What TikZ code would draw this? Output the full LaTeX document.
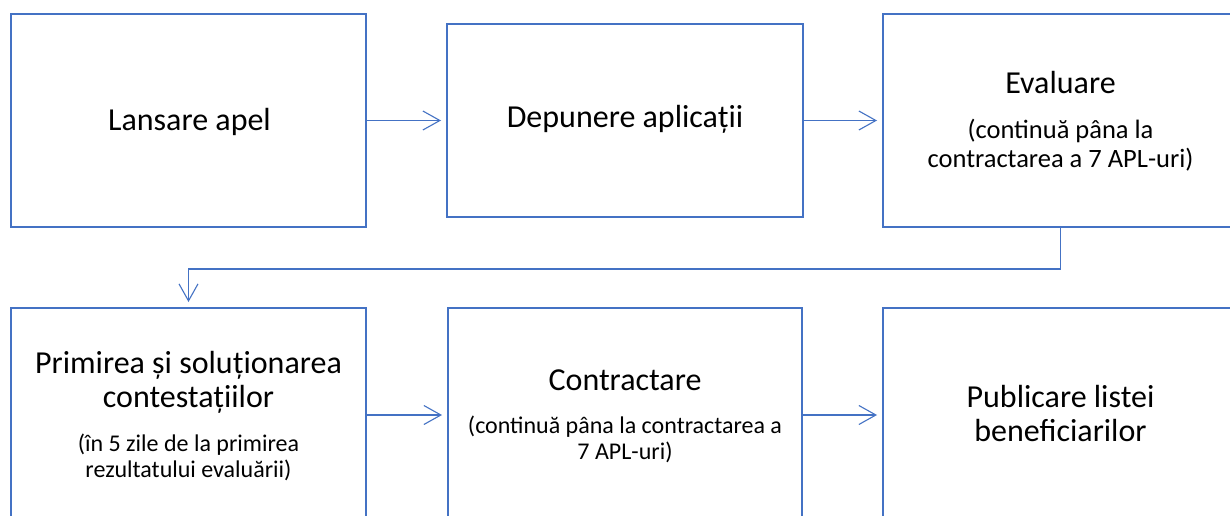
\documentclass[tikz,border=0pt]{standalone}
\usepackage{fontspec}
\setmainfont{Carlito}
\usetikzlibrary{arrows.meta}
\definecolor{officeblue}{HTML}{4472C4}
\tikzset{
  box/.style={draw=officeblue, line width=2pt, fill=white, inner sep=0pt},
  flow/.style={draw=officeblue, line width=1.1pt,
    -{Straight Barb[length=17pt,width=19pt,line width=1.1pt]}, shorten >=5pt},
  title/.style={anchor=base, inner sep=0pt, font=\fontsize{32}{34}\selectfont},
  sub/.style={anchor=base, inner sep=0pt, font=\fontsize{24}{26}\selectfont},
  subb/.style={anchor=base, inner sep=0pt, font=\fontsize{26.5}{29}\selectfont}
}
\begin{document}
\begin{tikzpicture}[x=1pt,y=-1pt]
\clip (0,0) rectangle (1230,516);
\useasboundingbox (0,0) rectangle (1230,516);
\fill[white] (0,0) rectangle (1230,516);
% boxes
\node[box, minimum width=355pt, minimum height=213pt] (b1) at (188.5,120.5) {};
\node[box, minimum width=356pt, minimum height=193pt] (b2) at (625,120.5) {};
\node[box, minimum width=355pt, minimum height=213pt] (b3) at (1060.5,120.5) {};
\node[box, minimum width=355pt, minimum height=214pt] (b4) at (188.5,415) {};
\node[box, minimum width=354pt, minimum height=214pt] (b5) at (625,415) {};
\node[box, minimum width=355pt, minimum height=214pt] (b6) at (1060.5,415) {};
% texts
\node[title] (t1) at (189.5,130) {Lansare apel};
\node[title] (t2) at (625,128) {Depunere aplicații};
\node[title] (t3) at (1060.5,94) {Evaluare};
\node[subb] (t3a) at (1060.5,138) {(continuă pâna la};
\node[subb] (t3b) at (1060.5,167) {contractarea a 7 APL-uri)};
\node[title] (t4) at (188.5,373) {Primirea și soluționarea};
\node[title] (t4a) at (188.5,407) {contestațiilor};
\node[sub] (t4b) at (188.5,451) {(în 5 zile de la primirea};
\node[sub] (t4c) at (188.5,477) {rezultatului evaluării)};
\node[title] (t5) at (625,390) {Contractare};
\node[sub] (t5a) at (625,433) {(continuă pâna la contractarea a};
\node[sub] (t5b) at (625,459) {7 APL-uri)};
\node[title] (t6) at (1060.5,407) {Publicare listei};
\node[title] (t6a) at (1060.5,441) {beneficiarilor};
% connectors
\draw[flow] (b1.east) -- (b2.west);
\draw[flow] (b2.east) -- (b3.west);
\draw[flow] (b3.south) -- ++(0,41) -| (b4.north);
\draw[flow] (b4.east) -- (b5.west);
\draw[flow] (b5.east) -- (b6.west);
\end{tikzpicture}
\end{document}
